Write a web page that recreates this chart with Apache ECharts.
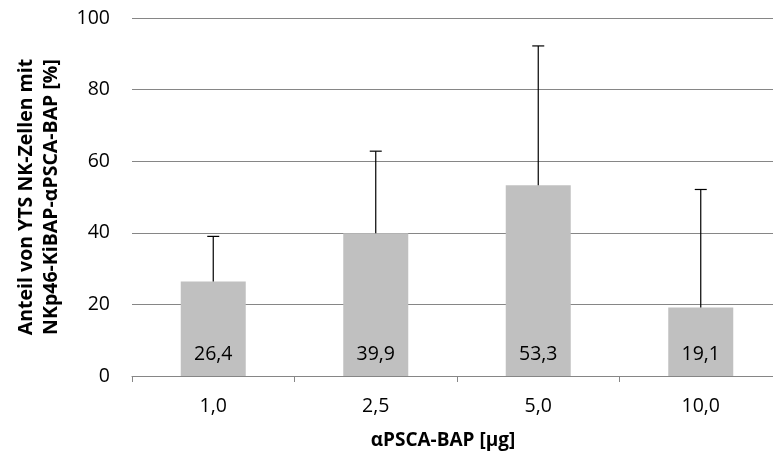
<!DOCTYPE html>
<html>
<head>
<meta charset="utf-8">
<script src="https://cdn.jsdelivr.net/npm/echarts@6/dist/echarts.min.js"></script>
<style>
  html, body { margin: 0; padding: 0; background: #fff; }
  #chart { width: 773px; height: 459px; }
</style>
</head>
<body>
<div id="chart"></div>
<script>
// Dose of αPSCA-BAP per sample
const doses = ['1,0', '2,5', '5,0', '10,0'];
// Mean share of YTS NK cells carrying NKp46-KiBAP-αPSCA-BAP [%]
const means = [26.4, 39.9, 53.3, 19.1];
// Upper standard deviation for each mean
const deviations = [12.6, 22.9, 38.9, 33.0];
// Value-axis ticks
const yTicks = [0, 20, 40, 60, 80, 100];

const FONT = 'Open Sans';
const chart = echarts.init(document.getElementById('chart'));

const errorData = doses.map((d, i) => [i, means[i], means[i] + deviations[i]]);

chart.setOption({
  animation: false,
  textStyle: { fontFamily: FONT },
  grid: { left: 132, top: 18, width: 650, height: 358, containLabel: false, outerBoundsMode: 'none' },
  xAxis: {
    type: 'category',
    data: doses,
    axisLine: { lineStyle: { color: '#868686', width: 1 } },
    axisTick: { show: true, length: 6, lineStyle: { color: '#868686' } },
    axisLabel: { color: '#000', fontSize: 19.5, fontFamily: FONT, margin: 20 },
    name: 'αPSCA-BAP [µg]',
    nameLocation: 'middle',
    nameGap: 55,
    nameTextStyle: { color: '#000', fontSize: 19, fontWeight: 'bold', fontFamily: FONT, padding: [0, 28, 0, 0] }
  },
  yAxis: {
    type: 'value',
    min: yTicks[0],
    max: yTicks[yTicks.length - 1],
    interval: yTicks[1] - yTicks[0],
    axisLine: { show: false },
    axisTick: { show: false },
    splitLine: { lineStyle: { color: '#868686', width: 1 } },
    axisLabel: { color: '#000', fontSize: 19.5, fontFamily: FONT, margin: 22 },
    name: 'Anteil von YTS NK-Zellen mit\nNKp46-KiBAP-αPSCA-BAP [%]',
    nameLocation: 'middle',
    nameRotate: 90,
    nameGap: 68,
    nameTextStyle: { color: '#000', fontSize: 19.5, fontWeight: 'bold', fontFamily: FONT, lineHeight: 25 }
  },
  series: [
    {
      type: 'bar',
      data: means,
      barWidth: '40%',
      itemStyle: { color: '#c0c0c0' },
      label: {
        show: true,
        position: 'insideBottom',
        distance: 12,
        color: '#000',
        fontSize: 19.5,
        fontFamily: FONT,
        formatter: p => String(p.value).replace('.', ',')
      },
      z: 2
    },
    {
      type: 'custom',
      data: errorData,
      z: 3,
      renderItem: (params, api) => {
        const x = api.value(0);
        const base = api.coord([x, api.value(1)]);
        const top = api.coord([x, api.value(2)]);
        const half = 6;
        const style = { stroke: '#000', lineWidth: 1.2 };
        return {
          type: 'group',
          children: [
            { type: 'line', shape: { x1: base[0], y1: base[1], x2: top[0], y2: top[1] }, style },
            { type: 'line', shape: { x1: top[0] - half, y1: top[1], x2: top[0] + half, y2: top[1] }, style }
          ]
        };
      }
    }
  ]
});
</script>
</body>
</html>
